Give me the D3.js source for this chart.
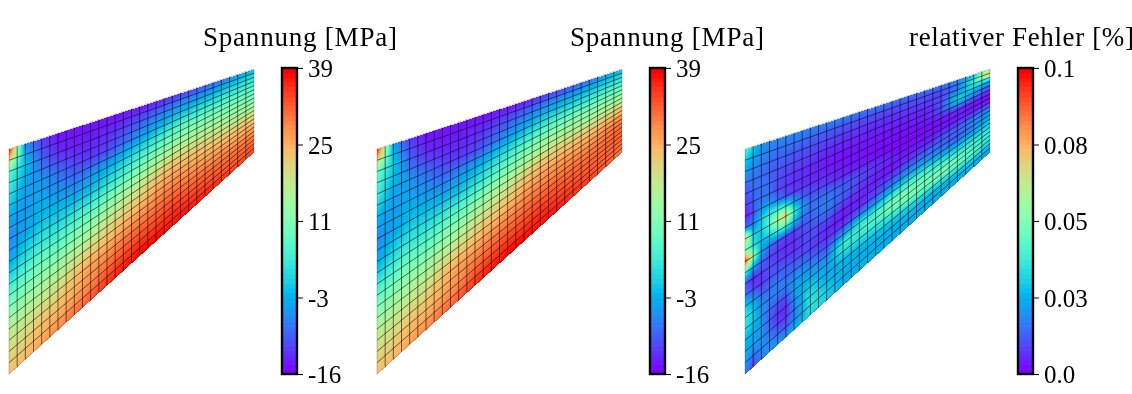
<!DOCTYPE html>
<html>
<head>
<meta charset="utf-8">
<script src="https://cdn.jsdelivr.net/npm/d3@7"></script>
<style>
  html, body { margin: 0; background: #fff; }
  #wrap { position: relative; width: 1132px; height: 394px; overflow: hidden; }
  canvas, svg { position: absolute; left: 0; top: 0; }
  text { font-family: "Liberation Serif", serif; fill: #000; }
</style>
</head>
<body>
<div id="wrap"><canvas id="field" width="1132" height="394"></canvas><svg id="chart" width="1132" height="394"></svg></div>
<script>
// mesh nodes the stress tables were read at
const stressU = [0, 2, 4, 6, 8, 10, 12, 14, 16, 18, 20, 22, 24, 26, 28, 30];
const stressV = [0, 2, 4, 6, 8, 10, 12, 14, 16, 18, 20];

// stress [MPa], left panel. Rows run top to bottom, columns left to right
const stressA = [
  [39, -6,-12,-15,-15,-15,-15,-15,-15,-14,-13,-12,-10, -8, -5, -1],
  [ 8, -1, -9,-13,-14,-14,-13,-12,-10, -8, -6, -4, -3, -1,  1,  3],
  [ 3, -4, -5, -8,-11,-12,-11, -8, -5, -2,  1,  3,  4,  5,  6,  7],
  [-3, -5, -3, -5, -7, -5, -3,  0,  3,  6,  9, 11, 11, 11, 11, 10],
  [-6, -4, -1, -1, -1,  0,  3,  6, 10, 13, 16, 16, 16, 15, 14, 13],
  [-4,  1,  4,  4,  6,  8, 11, 14, 17, 20, 22, 22, 21, 20, 19, 18],
  [ 4,  7, 10, 10, 13, 15, 18, 20, 22, 25, 27, 26, 25, 24, 24, 23],
  [11, 13, 15, 16, 19, 21, 23, 25, 27, 29, 30, 29, 28, 28, 27, 27],
  [17, 18, 20, 21, 24, 27, 28, 30, 31, 32, 33, 32, 32, 31, 31, 30],
  [21, 22, 24, 25, 27, 29, 32, 34, 35, 35, 36, 35, 34, 33, 32, 32],
  [24, 25, 27, 29, 31, 33, 36, 38, 39, 39, 38, 38, 37, 36, 35, 34]
];

// stress [MPa], middle panel
const stressB = [
  [38, -4,-12,-15,-15,-15,-15,-15,-15,-14,-13,-12,-10, -8, -5, -1],
  [10,  0, -9,-13,-14,-14,-13,-12,-10, -8, -6, -4, -3, -1,  1,  3],
  [ 5, -3, -5, -8,-11,-12,-11, -8, -5, -2,  1,  3,  4,  5,  7,  8],
  [-2, -5, -3, -5, -7, -5, -3,  0,  3,  6,  9, 11, 12, 12, 13, 13],
  [-6, -4, -1, -1, -1,  0,  3,  6, 10, 13, 16, 17, 17, 17, 18, 19],
  [-4,  1,  4,  4,  6,  8, 11, 14, 17, 20, 22, 23, 23, 23, 24, 25],
  [ 4,  7, 10, 10, 13, 15, 18, 20, 22, 25, 27, 27, 27, 27, 29, 30],
  [11, 13, 15, 16, 19, 21, 23, 25, 27, 29, 30, 30, 30, 30, 31, 32],
  [17, 18, 20, 21, 24, 27, 28, 30, 31, 32, 33, 33, 32, 32, 32, 32],
  [21, 22, 24, 25, 27, 29, 32, 34, 35, 35, 36, 35, 34, 33, 32, 31],
  [24, 25, 27, 29, 31, 33, 36, 38, 39, 39, 38, 38, 36, 35, 33, 30]
];

// mesh nodes the error table was read at
const errorU = [0, 1, 2, 3, 4, 5, 6, 7, 8, 10, 12, 14, 16, 18, 20, 22, 24, 26, 28, 29, 30];
const errorV = d3.range(21);

// relative error in thousandths of the 0..0.1 scale, right panel
const errorC = [
  [42,30,20,18,18,18,18,18,18,17,17,16,16,15,15,15,15,17,24,40,60],
  [30,22,18,16,15,15,15,14,13,12,11,10,10,10,10,10,10,16,36,62,72],
  [22,18,16,14,13,12,11,11,10, 9, 8, 7, 7, 7, 8, 8, 8,16,38,40,42],
  [15,15,14,12,11,10, 9, 9, 8, 6, 5, 5, 4, 5, 5, 5,10,26,30,26,22],
  [10,14,15,14,10, 8, 7, 6, 5, 3, 3, 3, 3, 3, 4, 4,10,32,22,15,12],
  [ 7,12,15,14, 9, 7, 6, 6, 5, 3, 2, 2, 2, 2, 2, 3, 8,18,12,10, 8],
  [ 3,10,20,22,16,10, 8, 7, 6, 5, 3, 2, 1, 1, 1, 1, 3, 6, 4, 3, 3],
  [12,16,30,38,42,40,22,14,10, 8, 5, 4, 3, 1, 0, 1, 2, 3, 2, 2, 2],
  [75,30,30,42,60,72,40,22,14,14,12,10, 7, 4, 2, 3, 3, 4, 5, 6, 6],
  [50,35,26,30,38,40,28,16,14,18,12, 8, 5, 3, 3, 4, 8,10,12,14,14],
  [95,55,22,14,10, 8, 8,10,12,15,10, 6, 3, 3, 8,10,12,14,18,18,18],
  [40,22,14, 8, 7, 5, 6, 8,10,10, 4, 3, 7,10,14,16,14,10,18,20,22],
  [12, 4, 8,10, 8, 7, 6, 8,10, 4, 3, 6,10,16,22,22,18,16,20,24,26],
  [15,10, 6,10,12,12,10,10, 8, 6, 8,16,22,30,34,34,28,26,26,28,30],
  [30,22,14,14,16,14,14,16,14,10,22,34,36,42,44,42,38,34,34,34,34],
  [36,30,18,16,18,16,20,22,18,16,38,38,42,50,50,48,46,42,38,38,36],
  [34,28,20,14,10,10,22,24,24,22,34,34,36,40,46,48,50,48,42,38,36],
  [26,22,20,12, 6, 6,18,26,30,22,26,26,28,30,32,34,38,42,42,36,32],
  [24,22,20,14, 8, 6,16,26,34,26,24,24,24,24,26,26,26,30,32,30,28],
  [22,14,18,18,14,12,18,24,36,30,24,24,24,24,24,24,24,24,24,24,24],
  [16, 8,16,20,20,20,24,28,32,30,24,24,24,24,24,24,24,24,24,24,24]
];

const stressLabels = ["-16", "-3", "11", "25", "39"];
const errorLabels = ["0.0", "0.03", "0.05", "0.08", "0.1"];
const titles = ["Spannung [MPa]", "Spannung [MPa]", "relativer Fehler [%]"];
const meshCols = 30;
const meshRows = 20;
const colorLevels = 64;

const panels = [
  { values: stressA, us: stressU, vs: stressV, domain: [-16, 39], labels: stressLabels, title: titles[0], left: 9, titleX: 300, titleW: 194 },
  { values: stressB, us: stressU, vs: stressV, domain: [-16, 39], labels: stressLabels, title: titles[1], left: 377, titleX: 667, titleW: 194 },
  { values: errorC, us: errorU, vs: errorV, domain: [0, 100], labels: errorLabels, title: titles[2], left: 745, titleX: 1021.5, titleW: 225 }
];

// matplotlib "rainbow" colormap
function rainbow(t) {
  let r = Math.min(1, Math.abs(2 * t - 0.5));
  let g = Math.sin(Math.PI * t);
  let b = Math.cos(Math.PI * t / 2);
  return [r * 255, g * 255, b * 255];
}

const svg = d3.select("#chart");
const ctx = document.getElementById("field").getContext("2d");
const image = ctx.createImageData(1132, 394);
image.data.fill(255);

function nodeIndex(nodes, a) {
  let i = Math.min(d3.bisectRight(nodes, a) - 1, nodes.length - 2);
  return [i, (a - nodes[i]) / (nodes[i + 1] - nodes[i])];
}

// bilinear shading between table nodes, like gouraud shading
function nodeValue(p, u, v) {
  let [i, fu] = nodeIndex(p.us, u);
  let [j, fv] = nodeIndex(p.vs, v);
  let t = p.values;
  return (t[j][i] * (1 - fu) + t[j][i + 1] * fu) * (1 - fv)
       + (t[j + 1][i] * (1 - fu) + t[j + 1][i + 1] * fu) * fv;
}

for (let p of panels) {
  let xScale = d3.scaleLinear().domain([0, meshCols]).range([p.left, p.left + 245]);
  let yTop = d3.scaleLinear().domain([0, meshCols]).range([149, 69]);
  let yBottom = d3.scaleLinear().domain([0, meshCols]).range([374, 152]);
  let colorScale = d3.scaleLinear().domain(p.domain).range([0, 1]).clamp(true);
  let meshPoint = (u, v) => [xScale(u), yTop(u) + (yBottom(u) - yTop(u)) * v / meshRows];

  // shaded field
  for (let px = p.left; px < p.left + 245; px++) {
    let u = xScale.invert(px + 0.5);
    let top = yTop(u), bottom = yBottom(u);
    for (let py = Math.ceil(top); py < bottom; py++) {
      let v = Math.min((py + 0.5 - top) / (bottom - top) * meshRows, meshRows);
      let c = rainbow(colorScale(nodeValue(p, u, v)));
      let k = (py * 1132 + px) * 4;
      image.data[k] = c[0]; image.data[k + 1] = c[1]; image.data[k + 2] = c[2];
    }
  }

  // mesh lines
  let line = d3.line();
  let mesh = svg.append("g").attr("fill", "none").attr("stroke", "#000").attr("stroke-width", 0.8).attr("stroke-opacity", 0.7);
  for (let j = 1; j < meshRows; j++) {
    mesh.append("path").attr("d", line([meshPoint(0, j), meshPoint(meshCols, j)]));
  }
  for (let i = 1; i < meshCols; i++) {
    mesh.append("path").attr("d", line([meshPoint(i, 0), meshPoint(i, meshRows)]));
  }
  let outline = svg.append("g").attr("fill", "none").attr("stroke", "#000").attr("stroke-width", 0.6).attr("stroke-opacity", 0.35);
  outline.append("path").attr("d", line([meshPoint(0, 0), meshPoint(meshCols, 0), meshPoint(meshCols, meshRows), meshPoint(0, meshRows)]) + "Z");

  // colorbar
  let barX = p.left + 273;
  let bands = d3.range(colorLevels);
  let bar = svg.append("g");
  bar.selectAll("rect").data(bands).join("rect")
    .attr("x", barX)
    .attr("width", 15)
    .attr("y", d => 374 - (d + 1) * 306 / colorLevels)
    .attr("height", 306 / colorLevels + 0.5)
    .attr("fill", d => {
      let c = rainbow(d / (colorLevels - 1));
      return d3.rgb(c[0], c[1], c[2]);
    });
  bar.append("rect").attr("x", barX).attr("y", 68).attr("width", 15).attr("height", 306)
    .attr("fill", "none").attr("stroke", "#000").attr("stroke-width", 2.4);

  let tickScale = d3.scalePoint().domain(p.labels).range([374, 68]);
  let axis = d3.axisRight(tickScale).tickSize(5).tickPadding(5);
  let axisG = svg.append("g").attr("transform", `translate(${barX + 16},0)`).call(axis);
  axisG.select(".domain").remove();
  axisG.selectAll("line").attr("stroke", "#000").attr("stroke-width", 1);
  axisG.selectAll("text").style("font-size", "25px").attr("dy", "0.34em").attr("font-family", null);

  // title, stretched to the width of the original's font
  svg.append("text").attr("x", p.titleX).attr("y", 46).attr("text-anchor", "middle")
    .attr("textLength", p.titleW).attr("lengthAdjust", "spacing")
    .style("font-size", "27px").text(p.title);
}
ctx.putImageData(image, 0, 0);
</script>
</body>
</html>
